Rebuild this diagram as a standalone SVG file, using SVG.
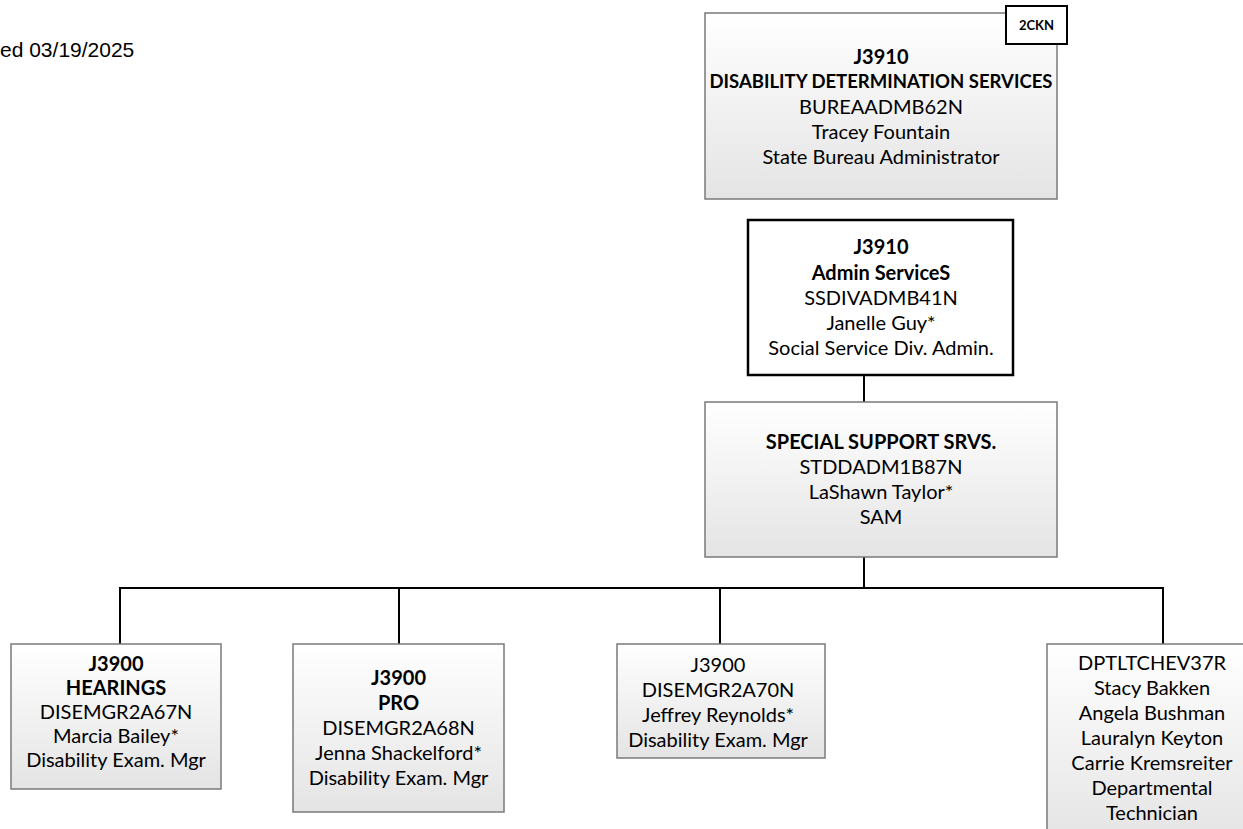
<svg xmlns="http://www.w3.org/2000/svg" width="1243" height="829" viewBox="0 0 1243 829">
<defs>
<linearGradient id="g" x1="0" y1="0" x2="0" y2="1">
<stop offset="0" stop-color="#ffffff"/>
<stop offset="1" stop-color="#e4e4e4"/>
</linearGradient>
<style>
.gbox{fill:url(#g);stroke:#7a7a7a;stroke-width:1.5}
.wbox{fill:#ffffff;stroke:#000000;stroke-width:2.5}
.t{font-family:Lato,"Open Sans",sans-serif;font-size:20px;fill:#000000;text-anchor:middle}
.b{font-weight:bold}
.conn{stroke:#000000;stroke-width:2;fill:none}
</style>
</defs>
<rect width="1243" height="829" fill="#ffffff"/>
<text x="0" y="57" font-family="Liberation Sans, sans-serif" font-size="21" fill="#000000">ed 03/19/2025</text>
<g id="connectors">
<line class="conn" x1="864" y1="375" x2="864" y2="402"/>
<line class="conn" x1="864" y1="557" x2="864" y2="588"/>
<line class="conn" x1="119" y1="588" x2="1164" y2="588"/>
<line class="conn" x1="120" y1="588" x2="120" y2="644"/>
<line class="conn" x1="399" y1="588" x2="399" y2="644"/>
<line class="conn" x1="720" y1="588" x2="720" y2="644"/>
<line class="conn" x1="1163" y1="588" x2="1163" y2="644"/>
</g>
<g id="node-dds">
<rect class="gbox" x="705" y="13" width="352" height="186"/>
<text class="t b" x="881" y="64">J3910</text>
<text class="t b" x="881" y="88" style="font-size:18.5px">DISABILITY DETERMINATION SERVICES</text>
<text class="t" x="881" y="114">BUREAADMB62N</text>
<text class="t" x="881" y="139">Tracey Fountain</text>
<text class="t" x="881" y="164">State Bureau Administrator</text>
</g>
<g id="node-2ckn">
<rect x="1006" y="6" width="61" height="38" fill="#ffffff" stroke="#000000" stroke-width="2"/>
<text class="t b" x="1036.5" y="30" style="font-size:13px">2CKN</text>
</g>
<g id="node-admin">
<rect class="wbox" x="748" y="220" width="265" height="155"/>
<text class="t b" x="881" y="254">J3910</text>
<text class="t b" x="881" y="280">Admin ServiceS</text>
<text class="t" x="881" y="305">SSDIVADMB41N</text>
<text class="t" x="881" y="330">Janelle Guy*</text>
<text class="t" x="881" y="355">Social Service Div. Admin.</text>
</g>
<g id="node-special">
<rect class="gbox" x="705" y="402" width="352" height="155"/>
<text class="t b" x="881" y="449">SPECIAL SUPPORT SRVS.</text>
<text class="t" x="881" y="474">STDDADM1B87N</text>
<text class="t" x="881" y="499">LaShawn Taylor*</text>
<text class="t" x="881" y="524">SAM</text>
</g>
<g id="node-hearings">
<rect class="gbox" x="11" y="644" width="210" height="145"/>
<text class="t b" x="116" y="671">J3900</text>
<text class="t b" x="116" y="695">HEARINGS</text>
<text class="t" x="116" y="719">DISEMGR2A67N</text>
<text class="t" x="116" y="743">Marcia Bailey*</text>
<text class="t" x="116" y="767">Disability Exam. Mgr</text>
</g>
<g id="node-pro">
<rect class="gbox" x="293" y="644" width="211" height="168"/>
<text class="t b" x="398.5" y="685">J3900</text>
<text class="t b" x="398.5" y="710">PRO</text>
<text class="t" x="398.5" y="735">DISEMGR2A68N</text>
<text class="t" x="398.5" y="760">Jenna Shackelford*</text>
<text class="t" x="398.5" y="785">Disability Exam. Mgr</text>
</g>
<g id="node-j3900">
<rect class="gbox" x="617" y="644" width="208" height="114"/>
<text class="t" x="718" y="672">J3900</text>
<text class="t" x="718" y="697">DISEMGR2A70N</text>
<text class="t" x="718" y="722">Jeffrey Reynolds*</text>
<text class="t" x="718" y="747">Disability Exam. Mgr</text>
</g>
<g id="node-dpt">
<rect class="gbox" x="1047" y="644" width="210" height="200"/>
<text class="t" x="1152" y="670">DPTLTCHEV37R</text>
<text class="t" x="1152" y="695">Stacy Bakken</text>
<text class="t" x="1152" y="720">Angela Bushman</text>
<text class="t" x="1152" y="745">Lauralyn Keyton</text>
<text class="t" x="1152" y="770">Carrie Kremsreiter</text>
<text class="t" x="1152" y="795">Departmental</text>
<text class="t" x="1152" y="820">Technician</text>
</g>
</svg>
